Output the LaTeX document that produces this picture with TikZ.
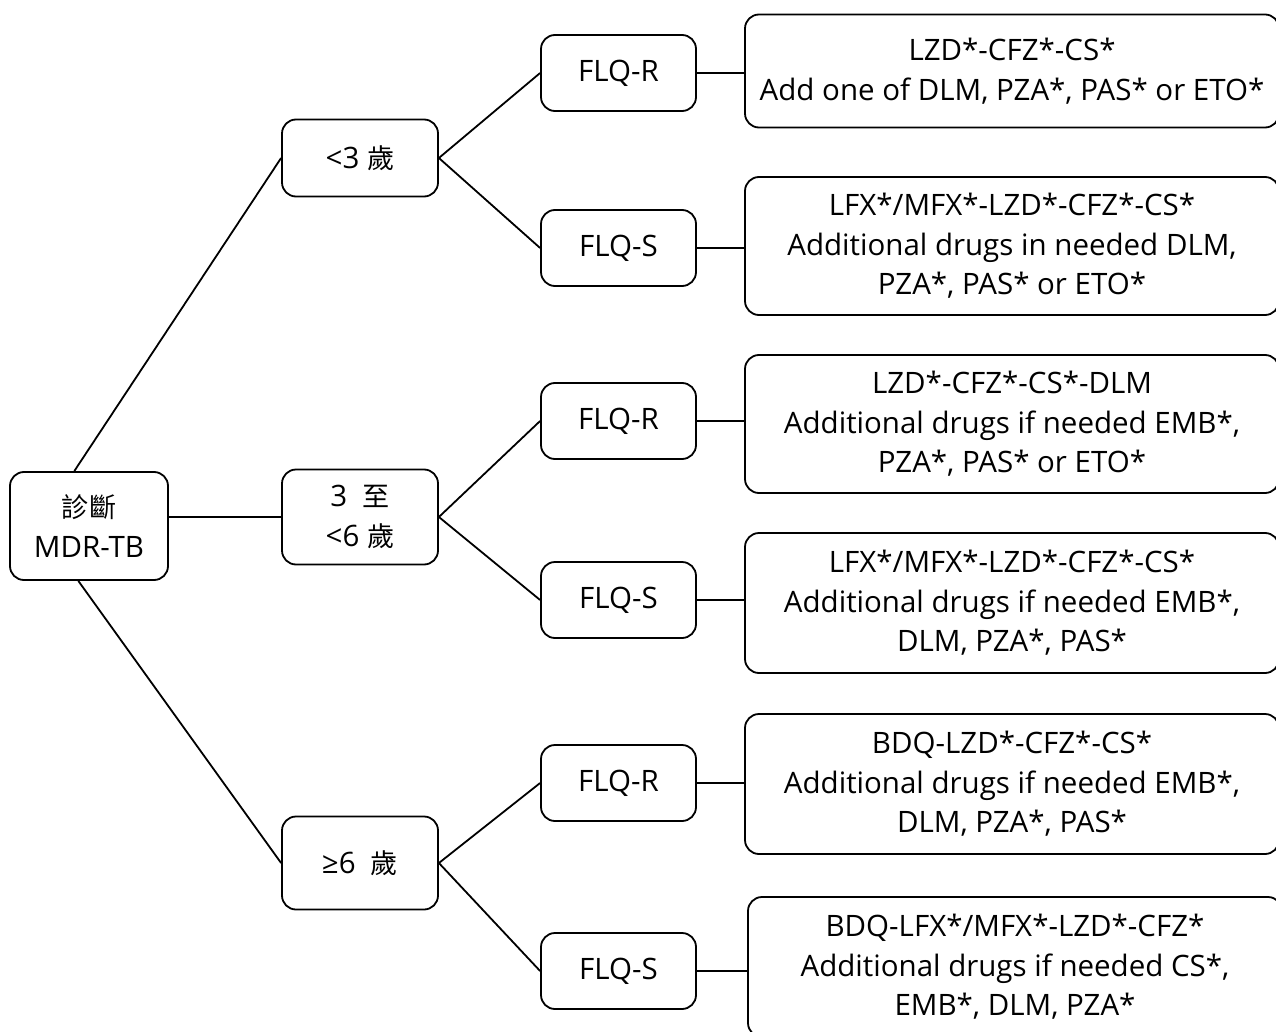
\documentclass[tikz,border=0pt]{standalone}
\usepackage{fontspec}
\setmainfont{Open Sans}
\newfontfamily\cjk[Scale=0.92]{Noto Sans CJK TC}
\begin{document}
\begin{tikzpicture}[x=1pt,y=-1pt,
  box/.style={draw,line width=1.8pt,rounded corners=14pt,align=center,inner sep=0pt,
    font=\fontsize{29.5}{39.5}\selectfont},
  flq/.style={box,minimum width=155pt,minimum height=76pt},
  age/.style={box,minimum width=156pt},
  res/.style={box,minimum width=534pt},
  conn/.style={line width=1.8pt}]
\clip (0,0) rectangle (1276,1032);
\useasboundingbox (0,0) rectangle (1276,1032);
\node[box,minimum width=158pt,minimum height=108pt] (root) at (89,526) {{\cjk 診斷}\\MDR-TB};
\node[age,minimum height=77pt] (a1) at (360,158) {<3 {\cjk 歲}};
\node[age,minimum height=95pt] (a2) at (360,517) {3\ \ {\cjk 至}\\<6 {\cjk 歲}};
\node[age,minimum height=93pt] (a3) at (360,863) {≥6\ \ {\cjk 歲}};
\node[flq] (f1) at (618.5,73) {FLQ-R};
\node[flq] (f2) at (618.5,248) {FLQ-S};
\node[flq] (f3) at (618.5,421) {FLQ-R};
\node[flq] (f4) at (618.5,600) {FLQ-S};
\node[flq] (f5) at (618.5,783) {FLQ-R};
\node[flq] (f6) at (618.5,971) {FLQ-S};
\node[res,minimum height=113pt] (r1) at (1012,71) {LZD*-CFZ*-CS*\\Add one of DLM, PZA*, PAS* or ETO*};
\node[res,minimum height=138pt] (r2) at (1012,246) {LFX*/MFX*-LZD*-CFZ*-CS*\\Additional drugs in needed DLM,\\PZA*, PAS* or ETO*};
\node[res,minimum height=138pt] (r3) at (1012,424) {LZD*-CFZ*-CS*-DLM\\Additional drugs if needed EMB*,\\PZA*, PAS* or ETO*};
\node[res,minimum height=140pt] (r4) at (1012,603) {LFX*/MFX*-LZD*-CFZ*-CS*\\Additional drugs if needed EMB*,\\DLM, PZA*, PAS*};
\node[res,minimum height=140pt] (r5) at (1012,784) {BDQ-LZD*-CFZ*-CS*\\Additional drugs if needed EMB*,\\DLM, PZA*, PAS*};
\node[res,minimum height=140pt] (r6) at (1015,967) {BDQ-LFX*/MFX*-LZD*-CFZ*\\Additional drugs if needed CS*,\\EMB*, DLM, PZA*};
\draw[conn] (root.105) -- (a1.west);
\draw[conn] (a2.west -| root.east) -- (a2.west);
\draw[conn] (root.-101) -- (a3.west);
\draw[conn] (a1.east) -- (f1.west);
\draw[conn] (a1.east) -- (f2.west);
\draw[conn] (a2.east) -- (f3.west);
\draw[conn] (a2.east) -- (f4.west);
\draw[conn] (a3.east) -- (f5.west);
\draw[conn] (a3.east) -- (f6.west);
\foreach \f/\r in {f1/r1,f2/r2,f3/r3,f4/r4,f5/r5,f6/r6}
  \draw[conn] (\f.east) -- (\f.east -| \r.west);
\end{tikzpicture}
\end{document}
